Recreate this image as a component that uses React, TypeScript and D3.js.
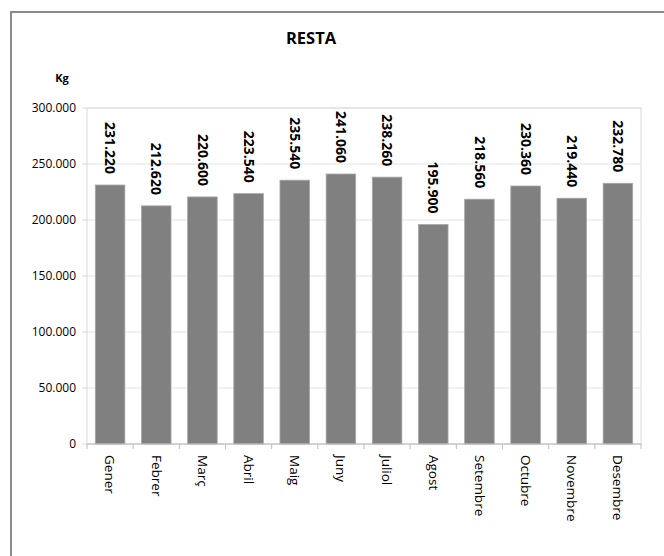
import React from 'react';
import * as d3 from 'd3';

const months = ['Gener', 'Febrer', 'Març', 'Abril', 'Maig', 'Juny', 'Juliol', 'Agost', 'Setembre', 'Octubre', 'Novembre', 'Desembre'];
const resta = [231220, 212620, 220600, 223540, 235540, 241060, 238260, 195900, 218560, 230360, 219440, 232780];
const yTicks = [0, 50000, 100000, 150000, 200000, 250000, 300000];

const FONT = '"Open Sans", "DejaVu Sans", sans-serif';

// 231220 -> "231.220"
const fmt = (v: number) => d3.format(',')(v).replace(/,/g, '.');

const App: React.FC = () => {
  const W = 664;
  const H = 556;
  const plot = { left: 87, right: 641, top: 108, bottom: 444 };

  const x = d3.scaleBand<string>().domain(months).range([plot.left, plot.right]).paddingInner(0.36).paddingOuter(0.18);
  const y = d3.scaleLinear().domain([0, 300000]).range([plot.bottom, plot.top]);
  const step = x.step();
  const labelLen = 53;

  return (
    <svg width={W} height={H} style={{ position: 'absolute', left: 0, top: 0, background: '#fff' }} fontFamily={FONT}>
      <rect x={11} y={12} width={700} height={600} fill="#fff" stroke="#8a8a8a" strokeWidth={2} />

      <text x={311} y={44} textAnchor="middle" fontSize={16.5} fontWeight="bold" fill="#000">RESTA</text>
      <text x={62} y={82} textAnchor="middle" fontSize={11} fontWeight="bold" fill="#000">Kg</text>

      {/* grid */}
      {yTicks.map((t) => (
        <line key={t} x1={plot.left} x2={plot.right} y1={y(t)} y2={y(t)} stroke="#e3e3e3" strokeWidth={1} />
      ))}
      <rect x={plot.left} y={plot.top} width={plot.right - plot.left} height={plot.bottom - plot.top} fill="none" stroke="#d9d9d9" strokeWidth={1} />

      {/* y tick labels */}
      {yTicks.map((t) => (
        <g key={t}>
          <line x1={plot.left - 5} x2={plot.left} y1={y(t)} y2={y(t)} stroke="#d9d9d9" />
          <text x={76} y={y(t)} dy="0.35em" textAnchor="end" fontSize={12} fill="#000">{fmt(t)}</text>
        </g>
      ))}

      {/* bars */}
      {months.map((m, i) => (
        <rect key={m} x={x(m)!} y={y(resta[i])} width={x.bandwidth()} height={plot.bottom - y(resta[i])} fill="#808080" stroke="#a6a6a6" strokeWidth={0.8} />
      ))}

      {/* value labels, rotated */}
      {months.map((m, i) => {
        const cx = x(m)! + x.bandwidth() / 2;
        let start = y(resta[i]) - 10 - labelLen;
        if (start < 104) start = 104;
        return (
          <text key={m} transform={`translate(${cx},${start}) rotate(90)`} dy="0.35em" fontSize={14} fontWeight="bold" fill="#000">
            {fmt(resta[i])}
          </text>
        );
      })}

      {/* x axis */}
      <line x1={plot.left} x2={plot.right} y1={plot.bottom} y2={plot.bottom} stroke="#bfbfbf" />
      {d3.range(months.length + 1).map((k) => {
        const tx = plot.left + k * step;
        return <line key={k} x1={tx} x2={tx} y1={plot.bottom} y2={plot.bottom + 5} stroke="#bfbfbf" />;
      })}
      {months.map((m) => {
        const cx = x(m)! + x.bandwidth() / 2;
        return (
          <text key={m} transform={`translate(${cx},455) rotate(90)`} dy="0.35em" fontSize={13.5} fill="#000">
            {m}
          </text>
        );
      })}
    </svg>
  );
};

export default App;
